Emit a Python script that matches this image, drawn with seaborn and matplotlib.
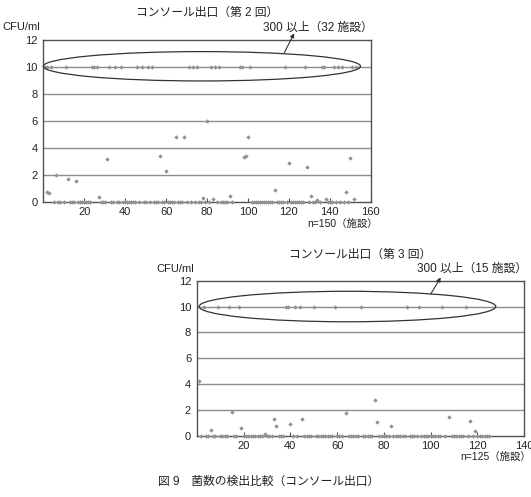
import matplotlib
matplotlib.use('Agg')
import matplotlib.pyplot as plt
import seaborn as sns
import pandas as pd
from matplotlib.patches import Ellipse

sns.set_theme(style='white')
plt.rcParams['font.family'] = ['Liberation Sans', 'Noto Sans CJK JP']

# ---------------- data: round 2 (n=150) ----------------
r2_title = 'コンソール出口（第 2 回）'
r2_over_label = '300 以上（32 施設）'
r2_n_label = 'n=150（施設）'
r2_over_x = [1, 2, 4, 11, 24, 25, 26, 32, 35, 38, 46, 48, 51, 53, 71, 73, 75,
             82, 84, 86, 96, 97, 101, 118, 128, 136, 137, 142, 144, 146, 151, 153]
r2_mid_x = [2, 3, 6, 12, 16, 27, 31, 57, 60, 65, 69, 78, 80, 83, 91, 98, 99, 100,
            113, 120, 129, 131, 134, 138, 148, 150, 152]
r2_mid_y = [0.7, 0.65, 2.0, 1.7, 1.5, 0.35, 3.2, 3.4, 2.25, 4.8, 4.8, 0.27, 6.0, 0.2,
            0.4, 3.3, 3.4, 4.8, 0.9, 2.85, 2.6, 0.45, 0.15, 0.22, 0.72, 3.25, 0.2]
r2_zero_x = [5, 7, 8, 10, 13, 14, 15, 17, 18, 19, 20, 21, 22, 23, 28, 29, 30, 33, 34,
             36, 37, 39, 40, 41, 42, 43, 44, 45, 47, 49, 50, 52, 54, 55, 56, 58, 59,
             61, 62, 63, 64, 66, 67, 68, 70, 72, 74, 76, 77, 79, 81, 85, 87, 88, 89,
             90, 92, 102, 103, 104, 105, 106, 107, 108, 109, 110, 111, 112, 114, 115,
             116, 117, 119, 121, 122, 123, 124, 125, 126, 127, 130, 132, 133, 135,
             139, 140, 141, 143, 145, 147, 149]

# ---------------- data: round 3 (n=125) ----------------
r3_title = 'コンソール出口（第 3 回）'
r3_over_label = '300 以上（15 施設）'
r3_n_label = 'n=125（施設）'
r3_over_x = [3, 9, 14, 18, 38, 39, 42, 44, 50, 59, 70, 90, 95, 105, 115]
r3_mid_x = [1, 6, 15, 19, 29, 33, 34, 40, 45, 64, 76, 77, 83, 108, 117, 119]
r3_mid_y = [4.2, 0.46, 1.86, 0.57, 0.1, 1.29, 0.77, 0.9, 1.29, 1.73, 2.76, 1.08,
            0.72, 1.42, 1.11, 0.39]
r3_zero_x = [2, 4, 5, 7, 8, 10, 11, 12, 13, 16, 17, 20, 21, 22, 23, 24, 25, 26, 27,
             28, 30, 31, 32, 35, 36, 37, 41, 43, 46, 47, 48, 49, 51, 52, 53, 54, 55,
             56, 57, 58, 60, 61, 62, 65, 66, 67, 68, 69, 71, 72, 73, 74, 75, 78, 79,
             80, 81, 82, 84, 85, 86, 87, 88, 89, 91, 92, 93, 94, 96, 97, 98, 99, 100,
             101, 102, 103, 104, 106, 109, 110, 111, 112, 113, 114, 116, 118, 120,
             121, 122, 123, 124, 125]

OVER_VALUE = 10      # plotted value for "300 以上"
y_ticks = [0, 2, 4, 6, 8, 10, 12]
caption = '図 9　菌数の検出比較（コンソール出口）'

MARK = '#909090'
GRID = '#8c8c8c'
SPINE = '#505050'
TXT = '#222222'


def make_df(over_x, mid_x, mid_y, zero_x):
    x = list(over_x) + list(mid_x) + list(zero_x)
    y = [OVER_VALUE] * len(over_x) + list(mid_y) + [0] * len(zero_x)
    return pd.DataFrame({'facility': x, 'value': y})


fig = plt.figure(figsize=(5.31, 4.97), dpi=100)
W, H = 531, 497


def axes_px(l, t, r, b):
    return fig.add_axes([l / W, 1 - b / H, (r - l) / W, (b - t) / H])


def draw(ax, df, xmax, xticks, title, over_label, n_label, ell, arrow):
    sns.scatterplot(data=df, x='facility', y='value', ax=ax, marker='D', s=5,
                    color=MARK, linewidth=0, clip_on=False, zorder=3)
    ax.set_xlim(0, xmax)
    ax.set_ylim(0, 12)
    ax.set_xticks(xticks)
    ax.set_yticks(y_ticks)
    ax.set_xlabel('')
    ax.set_ylabel('')
    for yv in y_ticks[1:-1]:
        ax.axhline(yv, color=GRID, lw=1.0, zorder=1)
    for s in ax.spines.values():
        s.set_color(SPINE)
        s.set_linewidth(1.0)
    ax.tick_params(axis='x', direction='in', length=3, width=0.8, color=SPINE,
                   pad=4, labelsize=8, labelcolor=TXT, bottom=True)
    ax.tick_params(axis='y', length=0, pad=4, labelsize=8, labelcolor=TXT)
    cx, cy, w, h = ell
    ax.add_patch(Ellipse((cx, cy), w, h, fill=False, edgecolor='#333333',
                         lw=0.9, zorder=4, clip_on=False))
    (hx, hy), (tx, ty) = arrow
    ax.annotate('', xy=(hx, hy), xytext=(tx, ty), annotation_clip=False,
                arrowprops=dict(arrowstyle='-|>', color='#333333', lw=0.8,
                                mutation_scale=6, shrinkA=0, shrinkB=0))
    ax.text(0.5, 1.167, title, transform=ax.transAxes, ha='center', va='center',
            fontsize=8.5, color=TXT)
    ax.text(-0.124, 1.078, 'CFU/ml', transform=ax.transAxes, ha='left',
            va='center', fontsize=8, color=TXT)
    ax.text(0.84, 1.076, over_label, transform=ax.transAxes, ha='center',
            va='center', fontsize=8.5, color=TXT)
    ax.text(1.021, -0.134, n_label, transform=ax.transAxes, ha='right',
            va='center', fontsize=7.5, color=TXT)


ax1 = axes_px(43.3, 40, 370.7, 201.7)
draw(ax1, make_df(r2_over_x, r2_mid_x, r2_mid_y, r2_zero_x), 160,
     [20, 40, 60, 80, 100, 120, 140, 160], r2_title, r2_over_label, r2_n_label,
     (77.5, 10.05, 155, 2.18), ((122.6, 12.5), (117.8, 11.06)))

ax2 = axes_px(196.7, 280.7, 524.3, 435.7)
draw(ax2, make_df(r3_over_x, r3_mid_x, r3_mid_y, r3_zero_x), 140,
     [20, 40, 60, 80, 100, 120, 140], r3_title, r3_over_label, r3_n_label,
     (64.4, 10.0, 126.8, 2.36), ((104.3, 12.25), (100.0, 10.97)))

fig.text(269 / W, 1 - 482 / H, caption, ha='center', va='center', fontsize=8.5,
         color=TXT)

fig.savefig('out.png', dpi=100)
